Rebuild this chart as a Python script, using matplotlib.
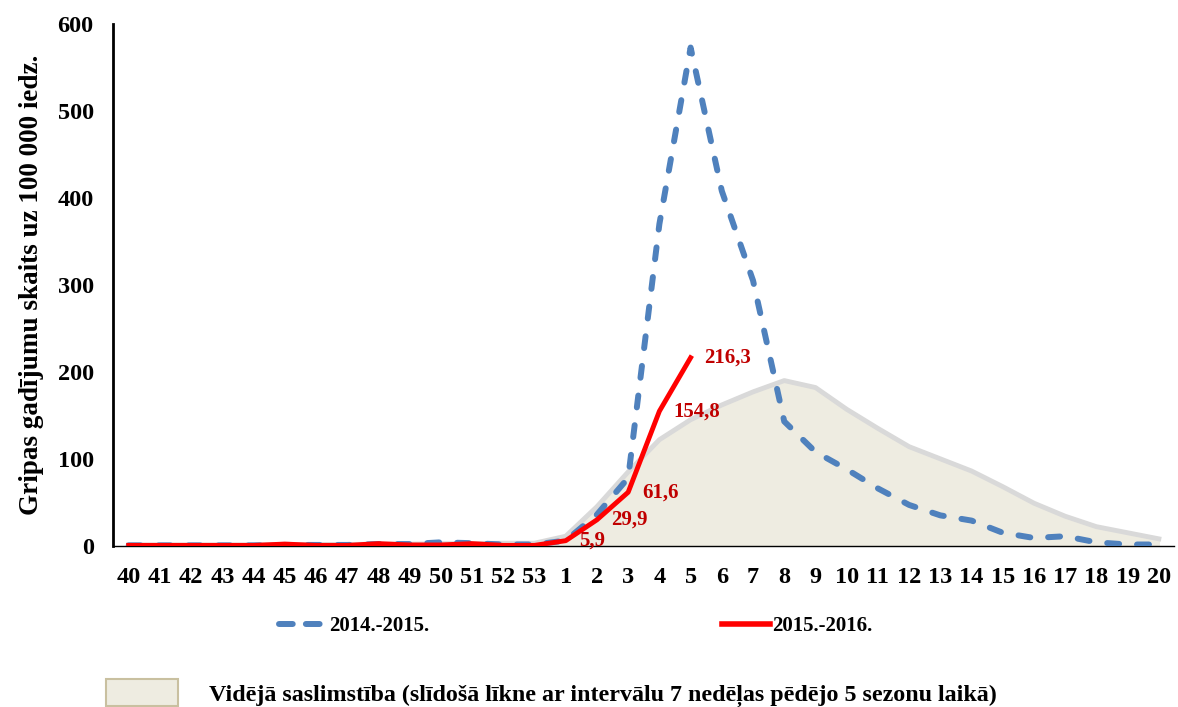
import matplotlib.pyplot as plt
import matplotlib.patches as mpatches
from matplotlib.lines import Line2D
import numpy as np

plt.rcParams['font.family'] = ['Liberation Serif', 'DejaVu Serif']
plt.rcParams['font.weight'] = 'bold'

weeks = [str(w) for w in range(40, 54)] + [str(w) for w in range(1, 21)]

average = [1, 1, 1, 1, 1, 1.5, 1.5, 1.5, 2, 2, 2.5, 2.5, 3, 3,
           11, 45, 85, 122, 145, 162, 177, 190, 182, 157, 135, 114, 100,
           86, 68, 49, 34, 22, 15, 8]

season_1415 = [0.5, 0.5, 0.5, 0.5, 0.5, 1, 1, 1, 2, 2, 4, 3, 1.5, 1.5,
               6, 36, 78, 370, 573, 408, 305, 143, 108, 88, 66, 47, 35,
               29, 15, 9, 11, 4, 1.5, 1.5]

season_1516 = [0.5, 0.5, 0.5, 0.5, 0.5, 2, 0.5, 0.5, 2.5, 1, 1, 2.5, 0.5, 0.5,
               5.9, 29.9, 61.6, 154.8, 216.3] + [np.nan] * 15

labels_1516 = {14: "5,9", 15: "29,9", 16: "61,6", 17: "154,8", 18: "216,3"}

fig = plt.figure(figsize=(11.78, 7.07), dpi=100)
ax = fig.add_axes([0.096, 0.228, 0.901, 0.738])

x = np.arange(len(weeks))
ax.fill_between(x, average, 0, color="#EEECE1", zorder=1)
ax.plot(x, average, color="#D9D9D9", linewidth=3.5, zorder=2)
ax.plot(x, season_1415, color="#4F81BD", linewidth=4.3, dashes=(2, 3),
        dash_capstyle='round', zorder=3)
ax.plot(x, season_1516, color="#FF0000", linewidth=3.5, zorder=4)

for i, txt in labels_1516.items():
    ax.annotate(txt, (x[i], season_1516[i]), xytext=(10, 0),
                textcoords='offset points', ha='left', va='center',
                color="#C00000", fontsize=15, fontweight='bold', zorder=5)

ax.set_xlim(-0.5, len(weeks) - 0.5)
ax.set_ylim(0, 600)
ax.set_yticks(range(0, 601, 100))
ax.set_xticks(x)
ax.set_xticklabels(weeks)
ax.tick_params(axis='x', length=0, pad=15, labelsize=17.5)
ax.tick_params(axis='y', length=0, pad=14, labelsize=17.5)
for lab in ax.get_xticklabels() + ax.get_yticklabels():
    lab.set_fontweight('bold')

for s in ['top', 'right']:
    ax.spines[s].set_visible(False)
ax.spines['left'].set_linewidth(2)
ax.spines['bottom'].set_linewidth(1)

ax.set_ylabel("Gripas gadījumu skaits uz 100 000 iedz.", fontsize=19.5,
              fontweight='bold', labelpad=10)

h1 = Line2D([], [], color="#4F81BD", linewidth=4.3, dashes=(2.3, 2.2),
            dash_capstyle='round')
h2 = Line2D([], [], color="#FF0000", linewidth=4)
h3 = mpatches.Patch(facecolor="#EEECE1", edgecolor="#C9C0A0", linewidth=1.5)

leg_kw = dict(frameon=False, loc='center left', borderpad=0, borderaxespad=0)
fig.legend([h1], ["2014.-2015."], bbox_to_anchor=(0.237, 0.114),
           handlelength=2.3, handletextpad=0.1,
           prop={'size': 15, 'weight': 'bold'}, **leg_kw)
fig.legend([h2], ["2015.-2016."], bbox_to_anchor=(0.613, 0.114),
           handlelength=2.3, handletextpad=0.1,
           prop={'size': 15, 'weight': 'bold'}, **leg_kw)
fig.legend([h3], ["Vidējā saslimstība (slīdošā līkne ar intervālu 7 nedēļas pēdējo 5 sezonu laikā)"],
           bbox_to_anchor=(0.09, 0.02), handlelength=3.0, handleheight=1.35,
           handletextpad=1.3, prop={'size': 17.3, 'weight': 'bold'}, **leg_kw)

fig.savefig("out.png", dpi=100)
